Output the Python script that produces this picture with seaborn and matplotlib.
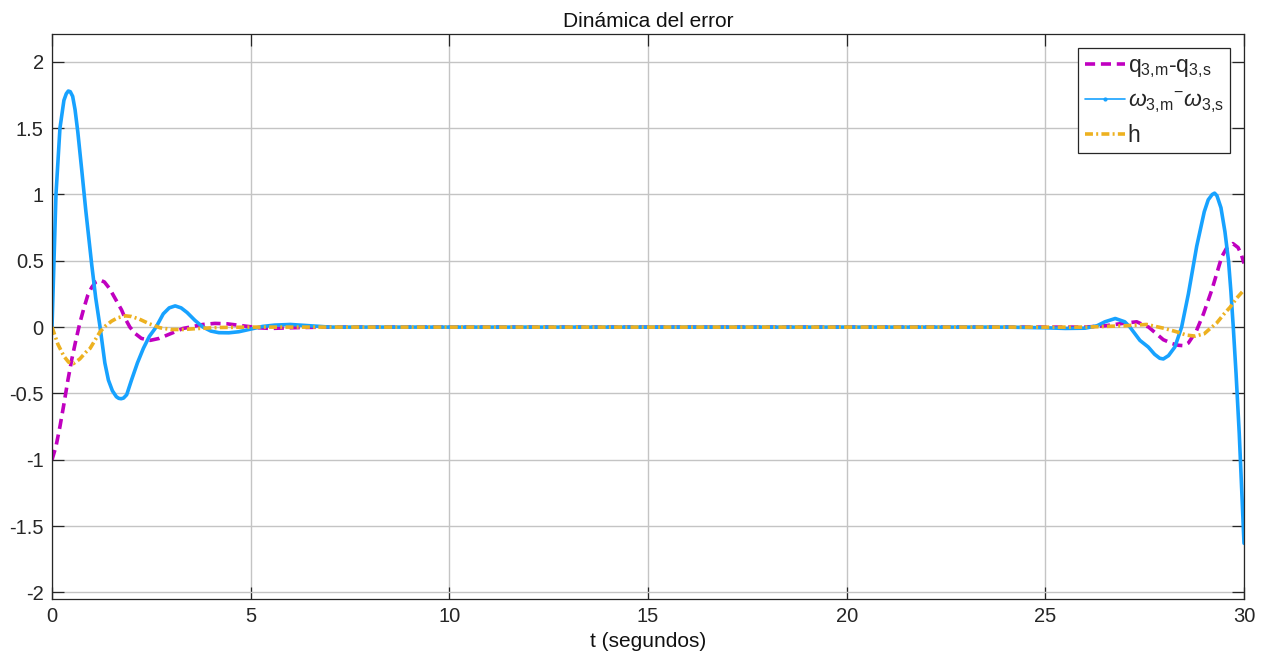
import numpy as np
import pandas as pd
import matplotlib
matplotlib.use("Agg")
import matplotlib.pyplot as plt
from matplotlib.lines import Line2D
import seaborn as sns

# ---------------- data ----------------
q_t = [0, 0.1, 0.2, 0.3, 0.4, 0.5, 0.6, 0.7, 0.8, 0.9, 1.0, 1.1, 1.21, 1.32, 1.45,
       1.6, 1.75, 1.85, 1.96, 2.1, 2.25, 2.47, 2.7, 2.9, 3.1, 3.3, 3.47, 3.8, 4.1,
       4.4, 4.8, 5.2, 5.5, 6.0, 6.8, 10, 15, 20, 24, 26.0, 26.5, 27.0, 27.3, 27.6,
       27.97, 28.2, 28.35, 28.48, 28.6, 28.8, 28.98, 29.19, 29.44, 29.57, 29.72, 29.85,
       29.93, 30.0]
q_v = [-1.0, -0.9, -0.75, -0.58, -0.4, -0.24, -0.1, 0.03, 0.14, 0.24, 0.3, 0.34, 0.355,
       0.34, 0.29, 0.21, 0.13, 0.06, 0.0, -0.05, -0.085, -0.1, -0.085, -0.06, -0.035,
       -0.01, 0.0, 0.02, 0.028, 0.025, 0.01, -0.005, -0.01, -0.005, 0.0, 0.0, 0.0, 0.0,
       0.0, 0.0, 0.01, 0.03, 0.04, 0.0, -0.095, -0.125, -0.137, -0.14, -0.12, -0.03, 0.1,
       0.28, 0.53, 0.6, 0.63, 0.6, 0.55, 0.48]

w_t = [0, 0.05, 0.1, 0.2, 0.3, 0.36, 0.41, 0.46, 0.52, 0.58, 0.65, 0.75, 0.85, 1.0, 1.1,
       1.21, 1.33, 1.42, 1.52, 1.62, 1.68, 1.74, 1.8, 1.88, 2.0, 2.15, 2.3, 2.45, 2.62,
       2.8, 2.95, 3.1, 3.25, 3.4, 3.6, 3.8, 4.0, 4.2, 4.45, 4.7, 5.0, 5.3, 5.6, 6.0, 6.4,
       7.0, 8.0, 10, 15, 20, 24.0, 25.0, 25.5, 26.0, 26.3, 26.5, 26.76, 27.0, 27.13,
       27.38, 27.59, 27.75, 27.88, 27.97, 28.1, 28.26, 28.43, 28.6, 28.81, 29.0, 29.1,
       29.2, 29.26, 29.32, 29.42, 29.52, 29.61, 29.67, 29.73, 29.8, 29.88, 29.95, 30.0]
w_v = [0, 0.5, 1.0, 1.5, 1.71, 1.76, 1.78, 1.775, 1.74, 1.64, 1.47, 1.18, 0.88, 0.47,
       0.22, 0.0, -0.27, -0.4, -0.48, -0.525, -0.537, -0.54, -0.535, -0.51, -0.4, -0.27,
       -0.16, -0.07, 0.0, 0.1, 0.145, 0.16, 0.145, 0.11, 0.05, 0.0, -0.03, -0.042,
       -0.043, -0.035, -0.015, 0.005, 0.015, 0.02, 0.012, 0.0, 0.0, 0.0, 0.0, 0.0, 0.0,
       -0.005, -0.01, -0.008, 0.01, 0.04, 0.065, 0.04, 0.0, -0.1, -0.15, -0.205, -0.235,
       -0.24, -0.215, -0.15, 0.0, 0.25, 0.61, 0.87, 0.96, 1.0, 1.01, 0.99, 0.9, 0.72,
       0.5, 0.27, 0.0, -0.35, -0.8, -1.28, -1.63]

h_t = [0, 0.15, 0.3, 0.42, 0.54, 0.7, 0.85, 0.96, 1.1, 1.21, 1.35, 1.5, 1.65, 1.85, 2.0,
       2.2, 2.45, 2.72, 3.0, 3.3, 3.7, 4.2, 5.0, 10, 15, 20, 24, 26.0, 27.0, 27.55, 28.0,
       28.3, 28.55, 28.77, 29.0, 29.15, 29.31, 29.5, 29.65, 29.82, 30.0]
h_v = [0, -0.13, -0.22, -0.265, -0.275, -0.24, -0.19, -0.16, -0.09, -0.035, 0.01, 0.045,
       0.07, 0.085, 0.08, 0.06, 0.025, -0.005, -0.018, -0.018, -0.01, -0.003, 0.0, 0.0,
       0.0, 0.0, 0.0, 0.0, 0.01, 0.02, -0.01, -0.035, -0.06, -0.068, -0.05, -0.01, 0.03,
       0.1, 0.15, 0.22, 0.28]

labels = [r'q$_{\mathrm{3{,}m}}$-q$_{\mathrm{3{,}s}}$',
          r'$\omega_{\mathrm{3{,}m}}{}^{\mathrm{-}}\omega_{\mathrm{3{,}s}}$',
          'h']
x_ticks = [0, 5, 10, 15, 20, 25, 30]
y_ticks = [-2, -1.5, -1, -0.5, 0, 0.5, 1, 1.5, 2]
y_tick_labels = ['-2', '-1.5', '-1', '-0.5', '0', '0.5', '1', '1.5', '2']
title = 'Dinámica del error'
xlabel = 't (segundos)'

# ---------------- style ----------------
sns.set_theme(style='white')
plt.rcParams['font.family'] = ['Liberation Sans', 'DejaVu Sans']
plt.rcParams['mathtext.fontset'] = 'custom'
plt.rcParams['mathtext.rm'] = 'Liberation Sans'
plt.rcParams['mathtext.it'] = 'Liberation Sans:italic'
plt.rcParams['mathtext.bf'] = 'Liberation Sans:bold'
plt.rcParams['axes.unicode_minus'] = False

c_q = '#C000C0'
c_w = '#17A2FF'
c_h = '#EDB120'
lw = 2.6
dash_q = (2.8, 1.6)
dash_h = (2.2, 0.9, 0.55, 0.9)

fig = plt.figure(figsize=(12.69, 6.68), dpi=100)
ax = fig.add_axes([52 / 1269, 1 - 599 / 668, 1192 / 1269, 565 / 668])

df_q = pd.DataFrame({'t': q_t, 'v': q_v})
df_w = pd.DataFrame({'t': w_t, 'v': w_v})
df_h = pd.DataFrame({'t': h_t, 'v': h_v})

sns.lineplot(data=df_q, x='t', y='v', ax=ax, color=c_q, lw=lw, sort=False,
             estimator=None)
ax.lines[-1].set_dashes(dash_q)
sns.lineplot(data=df_w, x='t', y='v', ax=ax, color=c_w, lw=lw, sort=False,
             estimator=None)
sns.lineplot(data=df_h, x='t', y='v', ax=ax, color=c_h, lw=lw, sort=False,
             estimator=None)
ax.lines[-1].set_dashes(dash_h)

ax.set_xlim(0, 30)
ax.set_ylim(-2.05, 2.21)
ax.set_xticks(x_ticks)
ax.set_xticklabels([str(v) for v in x_ticks])
ax.set_yticks(y_ticks)
ax.set_yticklabels(y_tick_labels)

ax.grid(True, color='#C4C4C4', lw=1.0)
ax.set_axisbelow(True)
for s in ax.spines.values():
    s.set_color('#262626')
    s.set_linewidth(0.9)
    s.set_visible(True)

ax.tick_params(axis='both', which='major', direction='in', length=8.5, width=0.9,
               color='#262626', labelsize=14.5, labelcolor='#262626',
               top=True, right=True, bottom=True, left=True, pad=6)

ax.set_title(title, fontsize=15, color='#111111', pad=5)
ax.set_xlabel(xlabel, fontsize=15, color='#111111', labelpad=4)
ax.set_ylabel('')

handles = [
    Line2D([], [], color=c_q, lw=lw, dashes=dash_q),
    Line2D([], [], color=c_w, lw=1.2, marker='.', markersize=4),
    Line2D([], [], color=c_h, lw=lw, dashes=dash_h),
]
leg = ax.legend(handles, labels, loc='upper right',
                bbox_to_anchor=((1230 - 52) / 1192, (599 - 48) / 565),
                borderaxespad=0, fancybox=False, framealpha=1, edgecolor='#262626',
                fontsize=16.5, handlelength=1.75, handletextpad=0.12,
                labelspacing=0.38, borderpad=0.28, numpoints=1)
leg.get_frame().set_linewidth(0.9)

fig.savefig('out.png', dpi=100)
